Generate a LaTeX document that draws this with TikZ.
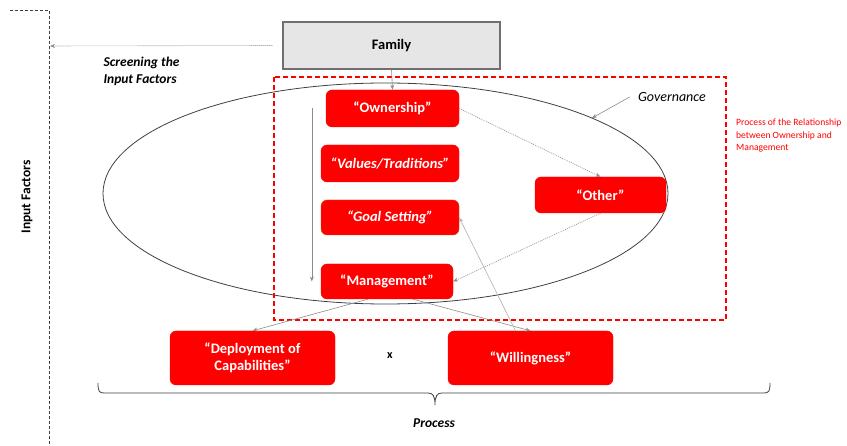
\documentclass[tikz,border=0pt]{standalone}
\usepackage{fontspec}
\setmainfont{Carlito}
\usetikzlibrary{arrows.meta,calc}
\definecolor{boxred}{HTML}{FF0000}
\definecolor{goalrim}{HTML}{C8500A}
\definecolor{famfill}{HTML}{E6E6E6}
\definecolor{famrim}{HTML}{707070}
\definecolor{linkgray}{HTML}{8C8C8C}
\definecolor{inkgray}{HTML}{404040}
\tikzset{
  redbox/.style={draw=boxred, fill=boxred, rounded corners=6pt, text=white,
    font=\fontsize{14.5}{17}\selectfont\bfseries, align=center, inner sep=0pt},
  redboxit/.style={redbox, font=\fontsize{14.5}{17}\selectfont\bfseries\itshape},
  link/.style={draw=linkgray, line width=0.6pt, -{Stealth[length=5pt,width=4pt]}},
  dotlink/.style={link, dash pattern=on 1pt off 1pt},
  labelbf/.style={font=\fontsize{13.5}{17}\selectfont\bfseries},
  labelbfit/.style={font=\fontsize{13.5}{17}\selectfont\bfseries\itshape},
}
\begin{document}
\begin{tikzpicture}[x=1pt,y=-1pt]
\useasboundingbox (0,0) rectangle (847,446);

% input-factor axis on the left
\draw[inkgray, line width=0.8pt, dash pattern=on 3pt off 2pt] (10,10) -- (49,10) -- (49,446);
\node[labelbf, rotate=90] (inputf) at (27,197) {Input Factors};
\node[labelbfit, align=left, anchor=north west] (screen) at (100,53) {Screening the\\Input Factors};

% governance ellipse and the relationship frame
\draw[inkgray, line width=0.8pt] (385.5,193.5) ellipse [x radius=282.5, y radius=110.5];
\draw[boxred, line width=1.5pt, dash pattern=on 5pt off 3pt] (274,77) rectangle (726,320);
\node[anchor=north west, align=left, text=boxred, font=\fontsize{9.6}{12.3}\selectfont, inner sep=1pt]
  (relnote) at (735,118) {Process of the Relationship\\between Ownership and\\Management};
\node[font=\fontsize{14}{17}\selectfont\itshape] (gov) at (672,97) {Governance};
\coordinate (govpt) at (592,118);

% family box
\node[draw=famrim, fill=famfill, line width=1.2pt, minimum width=217pt, minimum height=47pt,
  font=\fontsize{14.5}{17}\selectfont\bfseries] (family) at (391.5,45.5) {Family};

% red boxes
\node[redbox, minimum width=133pt, minimum height=37pt] (own) at (392.5,108.5) {“Ownership”};
\node[redboxit, minimum width=138pt, minimum height=37pt] (values) at (390,163.5) {“Values/Traditions”};
\node[redboxit, draw=goalrim, minimum width=138pt, minimum height=35pt] (goal) at (390,217.5) {“Goal Setting”};
\node[redbox, minimum width=132pt, minimum height=35pt] (mgmt) at (387,281.5) {“Management”};
\node[redbox, minimum width=131pt, minimum height=36pt] (other) at (600.5,195) {“Other”};
\node[redbox, minimum width=165pt, minimum height=54pt] (deploy) at (252.5,358) {“Deployment of\\Capabilities”};
\node[redbox, minimum width=165pt, minimum height=54pt] (will) at (530.5,358) {“Willingness”};
\node[font=\fontsize{12}{14}\selectfont\bfseries] (times) at (390,356) {x};

% connectors
\coordinate (axis) at (50,46);
\draw[dotlink] ([xshift=-10pt]family.west) -- (axis);
\draw[link] (family.south) -- (own.north);
\draw[link] ($(own.west)+(-14,0)$) -- ($(mgmt.west)+(-9,0)$);
\draw[dotlink] (own.east) -- (other.north);
\draw[dotlink] (other.south) -- (mgmt.east);
\draw[link] ([xshift=-19pt]mgmt.south) -- (deploy.north);
\draw[link] ([xshift=26pt]mgmt.south) -- (will.north);
\draw[link, draw=linkgray!70] ([xshift=-15pt]will.north) -- (goal.east);
\draw[link] ([xshift=-5pt]gov.west) -- (govpt);

% process brace
\draw[inkgray, line width=0.8pt] (98,383) .. controls (98,391) and (99,393) .. (104,393)
  -- (428,393) .. controls (433,393) and (435,396) .. (435,405)
  .. controls (435,396) and (437,393) .. (442,393)
  -- (764,393) .. controls (769,393) and (770,391) .. (770,383);
\node[labelbfit] (process) at (434,423) {Process};
\end{tikzpicture}
\end{document}
